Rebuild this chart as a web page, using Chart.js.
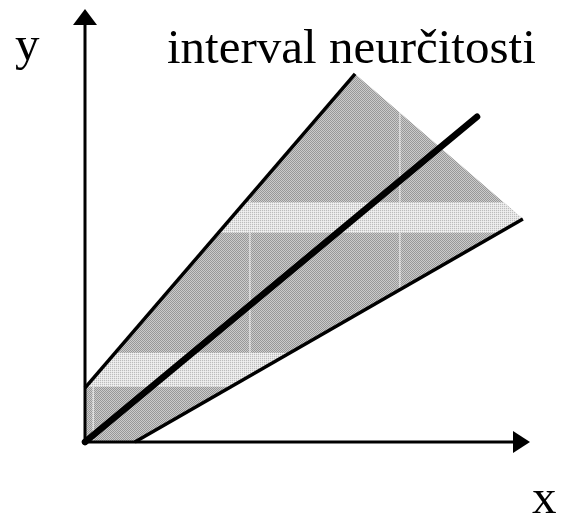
<!DOCTYPE html>
<html><head><meta charset="utf-8">
<script src="https://cdn.jsdelivr.net/npm/chart.js@4.4.1/dist/chart.umd.min.js"></script>
<style>html,body{margin:0;padding:0;background:#fff;overflow:hidden;}</style>
</head><body>
<canvas id="c" width="562" height="519"></canvas>
<script>
// ---- data (arbitrary units, axes run 0..10) ----
const xRange = [0, 10];
const yRange = [0, 10];
const regionPts = [{x:0,y:0},{x:0,y:1.25},{x:6.07,y:8.5},{x:9.84,y:5.15},{x:1.12,y:0},{x:0,y:0}];
const upperLine = [{x:0,y:1.25},{x:6.07,y:8.5}];
const lowerLine = [{x:1.12,y:0},{x:9.84,y:5.15}];
const centerLine = [{x:0,y:0},{x:8.81,y:7.51}];
const seamX = [0.18, 3.71, 7.08];           // light vertical seams in the texture
const bandY = [[1.27, 2.06], [4.83, 5.54]]; // light horizontal bands in the texture
const titleText = 'interval neurčitosti';
const xLabel = 'x';
const yLabel = 'y';

// ---- textures ----
function makePattern(a, b, c, d) {
  const cv = document.createElement('canvas');
  cv.width = 2; cv.height = 2;
  const g = cv.getContext('2d');
  g.fillStyle = a; g.fillRect(0,0,1,1);
  g.fillStyle = b; g.fillRect(1,0,1,1);
  g.fillStyle = c; g.fillRect(0,1,1,1);
  g.fillStyle = d; g.fillRect(1,1,1,1);
  return g.createPattern(cv, 'repeat');
}
const ctx0 = document.getElementById('c').getContext('2d');
const darkPat = makePattern('#989898', '#cbcbcb', '#cbcbcb', '#989898');
const lightPat = makePattern('#bcbcbc', '#e6e6e6', '#e6e6e6', '#f0f0f0');

const texturePlugin = {
  id: 'texture',
  afterDatasetDraw(chart, args) {
    if (args.index !== 0) return;
    const {ctx, scales:{x, y}} = chart;
    ctx.save();
    ctx.beginPath();
    regionPts.forEach((p, i) => {
      const px = x.getPixelForValue(p.x), py = y.getPixelForValue(p.y);
      if (i === 0) ctx.moveTo(px, py); else ctx.lineTo(px, py);
    });
    ctx.closePath();
    ctx.clip();
    ctx.fillStyle = lightPat;
    bandY.forEach(([a, b]) => {
      const y1 = y.getPixelForValue(b), y2 = y.getPixelForValue(a);
      ctx.fillRect(x.left - 5, y1, x.right - x.left + 10, y2 - y1);
    });
    seamX.forEach(v => {
      const px = x.getPixelForValue(v);
      ctx.fillRect(px - 0.75, y.top, 1.5, y.bottom - y.top);
    });
    ctx.restore();
  }
};

const axesPlugin = {
  id: 'axesArrows',
  afterDatasetsDraw(chart) {
    const {ctx, scales:{x, y}} = chart;
    const ox = x.getPixelForValue(xRange[0]), oy = y.getPixelForValue(yRange[0]);
    const xt = x.getPixelForValue(xRange[1]), yt = y.getPixelForValue(yRange[1]);
    ctx.save();
    ctx.strokeStyle = '#000'; ctx.fillStyle = '#000';
    ctx.lineWidth = 3; ctx.lineCap = 'butt';
    ctx.beginPath();
    ctx.moveTo(ox, oy + 1.5); ctx.lineTo(ox, yt + 14);
    ctx.moveTo(ox - 1.5, oy); ctx.lineTo(xt - 14, oy);
    ctx.stroke();
    ctx.beginPath();
    ctx.moveTo(ox, yt); ctx.lineTo(ox - 12, yt + 16); ctx.lineTo(ox + 12, yt + 16); ctx.closePath();
    ctx.fill();
    ctx.beginPath();
    ctx.moveTo(xt, oy); ctx.lineTo(xt - 17, oy - 11); ctx.lineTo(xt - 17, oy + 11); ctx.closePath();
    ctx.fill();
    ctx.beginPath(); ctx.arc(ox, oy, 3, 0, Math.PI * 2); ctx.fill();
    ctx.font = '49px "Liberation Serif", "Times New Roman", serif';
    ctx.textBaseline = 'alphabetic';
    ctx.textAlign = 'left';
    ctx.fillText(titleText, 167, 63);
    ctx.fillText(yLabel, 15, 60);
    ctx.fillText(xLabel, 532, 513);
    ctx.restore();
  }
};

new Chart(ctx0, {
  type: 'line',
  data: {
    datasets: [
      {data: regionPts, order: 10, fill: 'shape', backgroundColor: darkPat, borderWidth: 0, borderColor: 'rgba(0,0,0,0)', pointRadius: 0, tension: 0, clip: false},
      {data: upperLine, order: 2, fill: false, borderColor: '#000', borderWidth: 3.5, pointRadius: 0, clip: false},
      {data: lowerLine, order: 2, fill: false, borderColor: '#000', borderWidth: 3.5, pointRadius: 0, clip: false},
      {data: centerLine, order: 1, fill: false, borderColor: '#000', borderWidth: 6.5, borderCapStyle: 'round', pointRadius: 0, clip: false}
    ]
  },
  options: {
    responsive: false,
    animation: false,
    devicePixelRatio: 1,
    layout: {padding: {left: 85, top: 9, right: 32, bottom: 77}},
    plugins: {legend: {display: false}, tooltip: {enabled: false}, title: {display: false}},
    scales: {
      x: {type: 'linear', min: xRange[0], max: xRange[1], display: false},
      y: {type: 'linear', min: yRange[0], max: yRange[1], display: false}
    }
  },
  plugins: [texturePlugin, axesPlugin]
});
</script>
</body></html>
